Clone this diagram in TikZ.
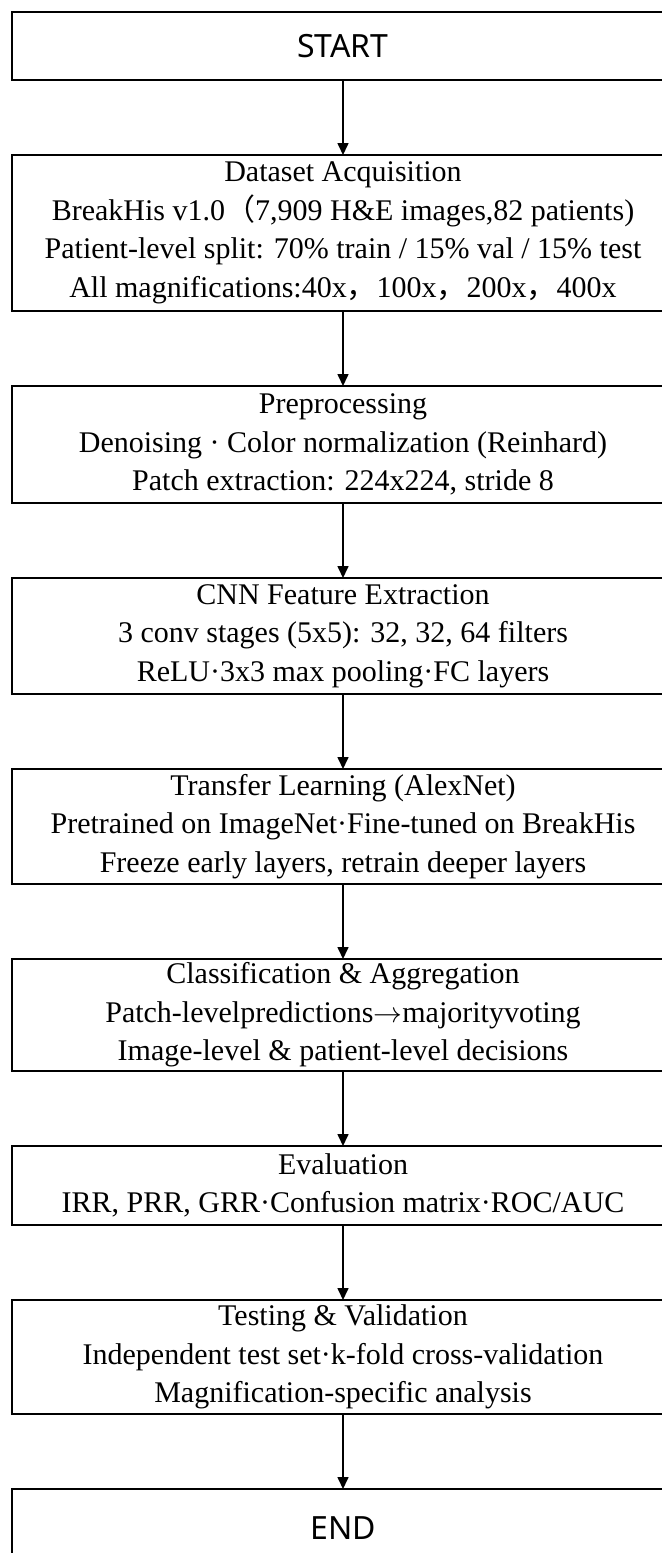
\documentclass[tikz,border=0pt]{standalone}
\usepackage{fontspec}
\setmainfont{Liberation Serif}
\newfontfamily\headfont{Noto Sans}
\newfontfamily\cjk{Noto Sans CJK SC}
\usetikzlibrary{arrows.meta,positioning}

\begin{document}
\begin{tikzpicture}[-{Triangle[length=6pt,width=5.5pt]}, line width=0.8pt,
    node distance=37.5pt,
    every node/.append style={font=\fontsize{15}{19.3}\selectfont,align=center}]
  \tikzstyle{stage} = [draw, line width=1.4pt, minimum width=331pt, inner sep=0pt, outer sep=0pt,
    execute at begin node={\rule{0pt}{18pt}}]
  \tikzstyle{term} = [draw, line width=1.4pt, minimum width=331pt, inner sep=0pt, outer sep=0pt,
    font=\headfont\fontsize{16}{19}\selectfont]
  \useasboundingbox (0,0) rectangle (331pt,-776.5pt);
  \clip (0,0) rectangle (331pt,-776.5pt);
  \node (start) [term, minimum height=34pt] at (171.5pt,-23pt) {START};
  \node (data) [stage, minimum height=78pt, below=of start]
    {Dataset Acquisition\\
     BreakHis v1.0{\cjk （}7,909 H\&E images,82 patients)\\
     Patient-level split: 70\% train / 15\% val / 15\% test\\
     All magnifications:40x{\cjk ，}100x{\cjk ，}200x{\cjk ，}400x};
  \node (prep) [stage, minimum height=58.5pt, below=of data]
    {Preprocessing\\
     Denoising · Color normalization (Reinhard)\\
     Patch extraction: 224x224, stride 8};
  \node (cnn) [stage, minimum height=58pt, below=of prep]
    {CNN Feature Extraction\\
     3 conv stages (5x5): 32, 32, 64 filters\\
     ReLU·3x3 max pooling·FC layers};
  \node (transfer) [stage, minimum height=57.5pt, below=of cnn]
    {Transfer Learning (AlexNet)\\
     Pretrained on ImageNet·Fine-tuned on BreakHis\\
     Freeze early layers, retrain deeper layers};
  \node (classify) [stage, minimum height=56pt, below=of transfer]
    {Classification \& Aggregation\\
     Patch-levelpredictions$\rightarrow$majorityvoting\\
     Image-level \& patient-level decisions};
  \node (eval) [stage, minimum height=39.5pt, below=of classify]
    {Evaluation\\
     IRR, PRR, GRR·Confusion matrix·ROC/AUC};
  \node (testing) [stage, minimum height=57pt, below=of eval]
    {Testing \& Validation\\
     Independent test set·k-fold cross-validation\\
     Magnification-specific analysis};
  \node (finish) [term, minimum height=39pt, below=of testing] {END};
  \draw (start) -- (data);
  \draw (data) -- (prep);
  \draw (prep) -- (cnn);
  \draw (cnn) -- (transfer);
  \draw (transfer) -- (classify);
  \draw (classify) -- (eval);
  \draw (eval) -- (testing);
  \draw (testing) -- (finish);
\end{tikzpicture}
\end{document}
